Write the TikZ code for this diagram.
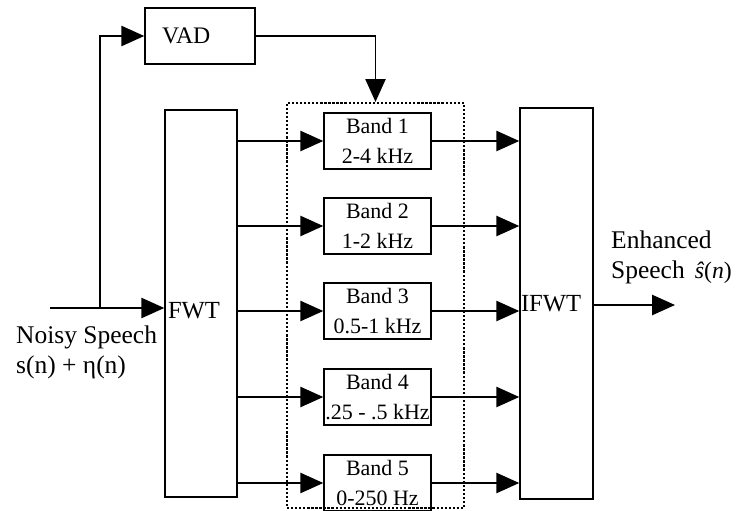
\documentclass[tikz,border=0pt]{standalone}
\usepackage{fontspec}
\setmainfont{Liberation Serif}
\usetikzlibrary{arrows.meta,positioning}
\tikzset{
  >={Triangle[length=13pt,width=11.5pt]},
  block/.style={draw,line width=0.85pt,inner sep=0pt,align=left},
  band/.style={draw,line width=0.85pt,minimum width=2.14cm,minimum height=1.12cm,
    inner sep=0pt,align=center,font=\fontsize{12.5}{17}\selectfont},
  flow/.style={->,line width=0.9pt},
  tag/.style={align=left,anchor=west,font=\fontsize{14.5}{17}\selectfont},
}
\begin{document}
\begin{tikzpicture}[x=0.02cm,y=-0.02cm]
  \useasboundingbox (0,0) rectangle (738,511);
  \node[block,minimum height=1.12cm,inner xsep=0.34cm,text width=1.52cm,
    font=\fontsize{13.5}{16}\selectfont] (vad) at (200,36) {VAD};
  \node[block,minimum height=7.74cm,inner xsep=0.06cm,text width=1.32cm,text height=17pt,text depth=0pt,
    font=\fontsize{14}{16}\selectfont] (fwt) at (201,303.5) {FWT};
  \node[block,minimum height=7.82cm,inner xsep=0.02cm,text width=1.42cm,
    font=\fontsize{14}{16}\selectfont] (ifwt) at (556.5,303.5) {IFWT};
  \node[draw,densely dotted,line width=1.3pt,minimum width=3.54cm,minimum height=8.1cm] (bank) at (375.5,305.5) {};
  \foreach \i/\y/\rng in {1/141/2-4 kHz,2/226/1-2 kHz,3/311/0.5-1 kHz,4/397/.25 - .5 kHz,5/483/0-250 Hz}{
    \node[band] (band\i) at (377.5,\y) {Band \i\\\rng};
    \draw[flow] (fwt.east |- band\i.west) -- (band\i.west);
    \draw[flow] (band\i.east) -- (band\i.east -| ifwt.west);
  }
  \coordinate (in) at (50,308);
  \coordinate (tap) at (100,308);
  \coordinate (out) at (675,305);
  \draw[flow] (in) -- (in -| fwt.west);
  \draw[flow] (tap) |- (vad.west);
  \draw[flow] (vad.east) -| (bank.north);
  \draw[flow] (ifwt.east |- out) -- (out);
  \node[tag] (noisy) at (10,352) {Noisy Speech\\s(n) + η(n)};
  \node[tag] (enh) at (605,257) {Enhanced\\Speech\hspace{0.2cm}{\fontsize{13.5}{14}\selectfont\textit{ŝ}(\textit{n})}};
\end{tikzpicture}
\end{document}
